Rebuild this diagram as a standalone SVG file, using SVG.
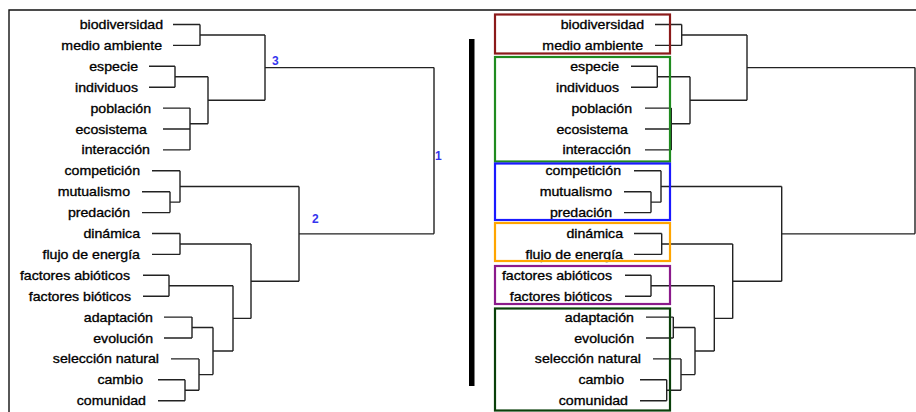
<svg xmlns="http://www.w3.org/2000/svg" width="916" height="412" viewBox="0 0 916 412">
<style>
.lbl{font-family:"Liberation Sans",Arial,sans-serif;font-size:12px;fill:#000;stroke:#000;stroke-width:0.3;text-anchor:end}
.num{font-family:"Liberation Sans",Arial,sans-serif;font-size:12px;font-weight:bold;fill:#3535ee}
.ln{fill:none;stroke:#222;stroke-width:1.4}
.box{fill:none;stroke-width:2.2}
</style>
<rect width="916" height="412" fill="#fff"/>
<path d="M9 412V10H916" fill="none" stroke="#111" stroke-width="1.4"/>
<rect x="469" y="39" width="5.5" height="347" fill="#000"/>
<g id="connectors">
<path class="ln" d="M173 24.5H200M173 45.4H200M149 66.3H175M149 87.2H175M163 108.1H190M163 129H190M163 149.9H190M152 170.8H180M142 191.7H170M142 212.6H170M152 233.5H180M152 254.4H180M143 275.3H169M143 296.2H169M164 317.1H192M164 338H192M171 358.9H199M158 379.8H185M158 400.7H185
M200 24.5V45.4M200 34.95H265M175 66.3V87.2M175 76.75H208M190 108.1V149.9M190 123.78H208M208 76.75V123.78M208 100.26H265M265 34.95V100.26M265 67.6H434
M170 191.7V212.6M170 202.15H180M180 170.8V202.15M180 186.48H299M180 233.5V254.4M180 243.95H251M169 275.3V296.2M169 285.75H233M192 317.1V338M192 327.55H213M185 379.8V400.7M185 390.25H199M199 358.9V390.25M199 374.58H213M213 327.55V374.58M213 351.06H233M233 285.75V351.06M233 318.4H251M251 243.95V318.4M251 281.18H299M299 186.48V281.18M299 233.83H434M434 67.6V233.83"/>
<path class="ln" d="M655 24.5H681.7M655 45.4H681.7M631 66.3H657.3M631 87.2H657.3M645 108.1H671.3M645 129H671.3M645 149.9H671.3M634 170.8H661M624 191.7H651M624 212.6H651M634 233.5H661.7M634 254.4H661.7M625 275.3H651M625 296.2H651M646 317.1H673.3M646 338H673.3M653 358.9H681M640 379.8H666.7M640 400.7H666.7
M681.7 24.5V45.4M681.7 34.95H747M657.3 66.3V87.2M657.3 76.75H690M671.3 108.1V149.9M671.3 123.78H690M690 76.75V123.78M690 100.26H747M747 34.95V100.26M747 67.6H915
M651 191.7V212.6M651 202.15H661M661 170.8V202.15M661 186.48H781.7M661.7 233.5V254.4M661.7 243.95H732.7M651 275.3V296.2M651 285.75H714.3M673.3 317.1V338M673.3 327.55H695M666.7 379.8V400.7M666.7 390.25H681M681 358.9V390.25M681 374.58H695M695 327.55V374.58M695 351.06H714.3M714.3 285.75V351.06M714.3 318.4H732.7M732.7 243.95V318.4M732.7 281.18H781.7M781.7 186.48V281.18M781.7 233.83H915M915 67.6V233.83"/>
<text class="num" x="272" y="65">3</text>
<text class="num" x="435" y="160">1</text>
<text class="num" x="312" y="223">2</text>
</g>
<g id="left-labels">
<g id="l-biodiversidad"><text class="lbl" transform="translate(163 29) scale(1.18 1)">biodiversidad</text></g>
<g id="l-medio-ambiente"><text class="lbl" transform="translate(162 49.9) scale(1.18 1)">medio ambiente</text></g>
<g id="l-especie"><text class="lbl" transform="translate(138 70.8) scale(1.18 1)">especie</text></g>
<g id="l-individuos"><text class="lbl" transform="translate(138 91.7) scale(1.18 1)">individuos</text></g>
<g id="l-poblacion"><text class="lbl" transform="translate(151 112.6) scale(1.18 1)">población</text></g>
<g id="l-ecosistema"><text class="lbl" transform="translate(147 133.5) scale(1.18 1)">ecosistema</text></g>
<g id="l-interaccion"><text class="lbl" transform="translate(150 154.4) scale(1.18 1)">interacción</text></g>
<g id="l-competicion"><text class="lbl" transform="translate(140 175.3) scale(1.18 1)">competición</text></g>
<g id="l-mutualismo"><text class="lbl" transform="translate(130 196.2) scale(1.18 1)">mutualismo</text></g>
<g id="l-predacion"><text class="lbl" transform="translate(130 217.1) scale(1.18 1)">predación</text></g>
<g id="l-dinamica"><text class="lbl" transform="translate(140 238) scale(1.18 1)">dinámica</text></g>
<g id="l-flujo"><text class="lbl" transform="translate(140 258.9) scale(1.18 1)">flujo de energía</text></g>
<g id="l-abioticos"><text class="lbl" transform="translate(130 279.8) scale(1.18 1)">factores abióticos</text></g>
<g id="l-bioticos"><text class="lbl" transform="translate(131 300.7) scale(1.18 1)">factores bióticos</text></g>
<g id="l-adaptacion"><text class="lbl" transform="translate(153 321.6) scale(1.18 1)">adaptación</text></g>
<g id="l-evolucion"><text class="lbl" transform="translate(153 342.5) scale(1.18 1)">evolución</text></g>
<g id="l-seleccion"><text class="lbl" transform="translate(159 363.4) scale(1.18 1)">selección natural</text></g>
<g id="l-cambio"><text class="lbl" transform="translate(143 384.3) scale(1.18 1)">cambio</text></g>
<g id="l-comunidad"><text class="lbl" transform="translate(146 405.2) scale(1.18 1)">comunidad</text></g>
</g>
<g id="right-labels">
<g id="r-biodiversidad"><text class="lbl" transform="translate(644 29) scale(1.18 1)">biodiversidad</text></g>
<g id="r-medio-ambiente"><text class="lbl" transform="translate(643 49.9) scale(1.18 1)">medio ambiente</text></g>
<g id="r-especie"><text class="lbl" transform="translate(619 70.8) scale(1.18 1)">especie</text></g>
<g id="r-individuos"><text class="lbl" transform="translate(619 91.7) scale(1.18 1)">individuos</text></g>
<g id="r-poblacion"><text class="lbl" transform="translate(632 112.6) scale(1.18 1)">población</text></g>
<g id="r-ecosistema"><text class="lbl" transform="translate(628 133.5) scale(1.18 1)">ecosistema</text></g>
<g id="r-interaccion"><text class="lbl" transform="translate(631 154.4) scale(1.18 1)">interacción</text></g>
<g id="r-competicion"><text class="lbl" transform="translate(621 175.3) scale(1.18 1)">competición</text></g>
<g id="r-mutualismo"><text class="lbl" transform="translate(612 196.2) scale(1.18 1)">mutualismo</text></g>
<g id="r-predacion"><text class="lbl" transform="translate(612 217.1) scale(1.18 1)">predación</text></g>
<g id="r-dinamica"><text class="lbl" transform="translate(623 238) scale(1.18 1)">dinámica</text></g>
<g id="r-flujo"><text class="lbl" transform="translate(623 258.9) scale(1.18 1)">flujo de energía</text></g>
<g id="r-abioticos"><text class="lbl" transform="translate(612 279.8) scale(1.18 1)">factores abióticos</text></g>
<g id="r-bioticos"><text class="lbl" transform="translate(612 300.7) scale(1.18 1)">factores bióticos</text></g>
<g id="r-adaptacion"><text class="lbl" transform="translate(634 321.6) scale(1.18 1)">adaptación</text></g>
<g id="r-evolucion"><text class="lbl" transform="translate(634 342.5) scale(1.18 1)">evolución</text></g>
<g id="r-seleccion"><text class="lbl" transform="translate(641 363.4) scale(1.18 1)">selección natural</text></g>
<g id="r-cambio"><text class="lbl" transform="translate(624 384.3) scale(1.18 1)">cambio</text></g>
<g id="r-comunidad"><text class="lbl" transform="translate(628 405.2) scale(1.18 1)">comunidad</text></g>
</g>
<g id="clusters">
<rect id="c-red" class="box" x="495" y="14.5" width="175" height="39" stroke="#8b1a1a"/>
<rect id="c-green" class="box" x="495" y="57" width="175" height="104.5" stroke="#1f8b1f"/>
<rect id="c-blue" class="box" x="495" y="163.5" width="175" height="56.5" stroke="#1a1aff"/>
<rect id="c-orange" class="box" x="495" y="223" width="175" height="38" stroke="#ffa500"/>
<rect id="c-purple" class="box" x="495" y="266" width="175" height="38" stroke="#8b1a8b"/>
<rect id="c-darkgreen" class="box" x="495" y="308.5" width="175" height="102" stroke="#0a400a"/>
</g>
</svg>
